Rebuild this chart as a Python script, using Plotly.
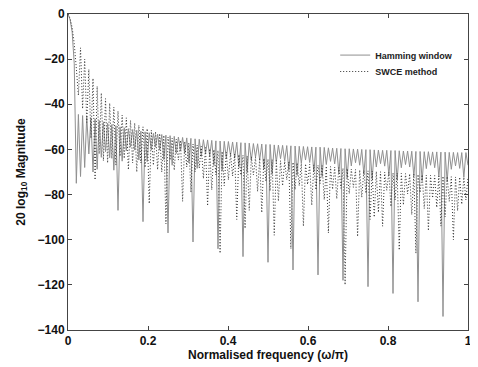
import plotly.graph_objects as go

# Normalised frequency grid (omega/pi) shared by both responses
freq = [
    0.0000, 0.0052, 0.0104, 0.0156, 0.0208, 0.0260, 0.0313, 0.0365, 0.0417, 0.0469, 0.0521, 0.0573,
    0.0625, 0.0677, 0.0729, 0.0781, 0.0833, 0.0885, 0.0938, 0.0990, 0.1042, 0.1094, 0.1146, 0.1198,
    0.1250, 0.1302, 0.1354, 0.1406, 0.1458, 0.1510, 0.1563, 0.1615, 0.1667, 0.1719, 0.1771, 0.1823,
    0.1875, 0.1927, 0.1979, 0.2031, 0.2083, 0.2135, 0.2188, 0.2240, 0.2292, 0.2344, 0.2396, 0.2448,
    0.2500, 0.2552, 0.2604, 0.2656, 0.2708, 0.2760, 0.2813, 0.2865, 0.2917, 0.2969, 0.3021, 0.3073,
    0.3125, 0.3177, 0.3229, 0.3281, 0.3333, 0.3385, 0.3438, 0.3490, 0.3542, 0.3594, 0.3646, 0.3698,
    0.3750, 0.3802, 0.3854, 0.3906, 0.3958, 0.4010, 0.4063, 0.4115, 0.4167, 0.4219, 0.4271, 0.4323,
    0.4375, 0.4427, 0.4479, 0.4531, 0.4583, 0.4635, 0.4688, 0.4740, 0.4792, 0.4844, 0.4896, 0.4948,
    0.5000, 0.5052, 0.5104, 0.5156, 0.5208, 0.5260, 0.5313, 0.5365, 0.5417, 0.5469, 0.5521, 0.5573,
    0.5625, 0.5677, 0.5729, 0.5781, 0.5833, 0.5885, 0.5938, 0.5990, 0.6042, 0.6094, 0.6146, 0.6198,
    0.6250, 0.6302, 0.6354, 0.6406, 0.6458, 0.6510, 0.6563, 0.6615, 0.6667, 0.6719, 0.6771, 0.6823,
    0.6875, 0.6927, 0.6979, 0.7031, 0.7083, 0.7135, 0.7188, 0.7240, 0.7292, 0.7344, 0.7396, 0.7448,
    0.7500, 0.7552, 0.7604, 0.7656, 0.7708, 0.7760, 0.7813, 0.7865, 0.7917, 0.7969, 0.8021, 0.8073,
    0.8125, 0.8177, 0.8229, 0.8281, 0.8333, 0.8385, 0.8438, 0.8490, 0.8542, 0.8594, 0.8646, 0.8698,
    0.8750, 0.8802, 0.8854, 0.8906, 0.8958, 0.9010, 0.9063, 0.9115, 0.9167, 0.9219, 0.9271, 0.9323,
    0.9375, 0.9427, 0.9479, 0.9531, 0.9583, 0.9635, 0.9688, 0.9740, 0.9792, 0.9844, 0.9896, 0.9948,
    1.0000,
]

# 20 log10 magnitude, Hamming window (solid grey)
hamming_db = [
    0, -2.5, -8, -22, -75, -44.5, -72, -45, -68, -45.5, -62, -46,
    -70, -46.5, -68.8, -47.2, -63.5, -47.8, -61, -48.4, -63.7, -49, -69.2, -49.5,
    -87, -50, -65.2, -50.4, -60.6, -50.8, -59, -51.2, -60.3, -51.5, -64.7, -51.9,
    -92, -52.2, -65.4, -52.6, -60.2, -52.9, -59, -53.2, -60.3, -53.4, -64.5, -53.7,
    -97, -53.9, -67, -54.2, -61.8, -54.5, -60.6, -54.7, -61.8, -54.9, -66, -55.1,
    -101, -55.3, -68.4, -55.5, -63.1, -55.7, -61.8, -55.8, -62.9, -56, -67.1, -56.2,
    -104, -56.3, -69.4, -56.4, -64, -56.5, -62.6, -56.7, -63.8, -56.8, -67.9, -57,
    -107.5, -57.1, -70.2, -57.2, -64.8, -57.4, -63.4, -57.5, -64.6, -57.6, -68.7, -57.8,
    -110, -57.8, -70.9, -58, -65.5, -58.1, -64.1, -58.2, -65.2, -58.3, -69.3, -58.4,
    -113.4, -58.5, -71.5, -58.6, -66.1, -58.7, -64.7, -58.8, -65.8, -58.9, -69.9, -59,
    -115.6, -59, -72.1, -59.1, -66.7, -59.3, -65.3, -59.4, -66.4, -59.5, -70.5, -59.6,
    -118, -59.7, -72.7, -59.7, -67.3, -59.8, -65.9, -59.9, -67, -60, -71, -60.1,
    -120.8, -60.1, -73.2, -60.2, -67.8, -60.3, -66.3, -60.4, -67.4, -60.4, -71.5, -60.5,
    -123.8, -60.5, -73.6, -60.6, -68.1, -60.7, -66.7, -60.7, -67.8, -60.8, -71.8, -60.9,
    -127.5, -60.9, -73.9, -61, -68.5, -61, -67, -61.1, -68.1, -61.1, -72.1, -61.2,
    -134, -61.2, -74.2, -61.3, -68.8, -61.3, -67.3, -61.4, -68.4, -61.4, -72.4, -61.4,
    -67,
]

# 20 log10 magnitude, SWCE method (dotted)
swce_db = [
    0, -2, -6, -13, -24, -36, -15, -42, -20, -48, -24.5, -55,
    -28.5, -73.5, -32, -62, -35, -65, -37.5, -66, -39.5, -64, -41.3, -67,
    -43, -63, -44.8, -64, -46, -69, -47.2, -66, -48.3, -70, -49.3, -66,
    -50, -68, -50.8, -84, -51.5, -67, -52.2, -69, -53, -70, -53.8, -93,
    -54.5, -64.7, -55, -69.2, -55.5, -64.7, -56, -83, -56.6, -67.8, -57.1, -79,
    -57.6, -69.9, -58.1, -68.3, -58.7, -72.9, -59.2, -85, -59.7, -77.9, -60.1, -71.3,
    -60.5, -106, -60.9, -76.1, -61.3, -73.5, -61.7, -71.8, -62, -91, -62.3, -71.4,
    -62.6, -95, -62.9, -87, -63.2, -71.3, -63.5, -78.6, -63.8, -88, -64, -74.1,
    -64.3, -78.4, -64.5, -98, -64.8, -82.9, -65, -76.1, -65.3, -73.4, -65.5, -104,
    -65.7, -77.8, -66, -76.1, -66.2, -94, -66.4, -75.5, -66.6, -84.7, -66.8, -77.9,
    -67, -75.1, -67.2, -82.3, -67.4, -97, -67.6, -77.7, -67.8, -81.9, -68.1, -77.2,
    -68.3, -120, -68.5, -79.6, -68.7, -76.8, -68.9, -98.6, -69.1, -81.2, -69.3, -79.4,
    -69.5, -91, -69.6, -90, -69.8, -87.9, -69.9, -94, -70.1, -78.1, -70.2, -85.3,
    -70.4, -82.4, -70.5, -104.6, -70.6, -84.6, -70.7, -79.7, -70.8, -88.9, -70.9, -106,
    -71.1, -79.1, -71.2, -86.2, -71.4, -96, -71.5, -81.5, -71.6, -85.7, -71.8, -94,
    -71.9, -89.9, -72, -83, -72.1, -100, -72.2, -87.2, -72.3, -84.3, -72.4, -82.4,
    -72.4,
]

x_ticks = [0, 0.2, 0.4, 0.6, 0.8, 1]
x_tick_labels = ["0", "0.2", "0.4", "0.6", "0.8", "1"]
y_ticks = [0, -20, -40, -60, -80, -100, -120, -140]
y_tick_labels = ["0", "\u221220", "\u221240", "\u221260", "\u221280", "\u2212100", "\u2212120", "\u2212140"]

FONT = "Arial, Liberation Sans, sans-serif"

fig = go.Figure()
fig.add_trace(go.Scatter(
    x=freq, y=hamming_db, mode="lines", name="Hamming window",
    line=dict(color="#909090", width=1), legend="legend",
))
fig.add_trace(go.Scatter(
    x=freq, y=swce_db, mode="lines", name="SWCE method",
    line=dict(color="#333333", width=1, dash="1px,2px"), legend="legend2",
))

axis_common = dict(
    showgrid=False, zeroline=False, showline=True, linecolor="#444444", linewidth=1,
    mirror="ticks", ticks="inside", ticklen=4, tickcolor="#444444", automargin=False,
    ticklabeloverflow="allow",
    tickfont=dict(family=FONT, size=12, color="#111111", weight="bold"),
)

legend_common = dict(
    xanchor="left", yanchor="middle", bgcolor="rgba(0,0,0,0)", borderwidth=0,
    font=dict(family=FONT, size=9, color="#222222", weight="bold"),
    itemwidth=30,
)

# the page body adds an 8 px offset, so the figure is sized and placed to compensate
fig.update_layout(
    width=470, height=359,
    margin=dict(l=60, r=10, t=6, b=37),
    paper_bgcolor="white", plot_bgcolor="white",
    showlegend=True,
    legend=dict(x=0.668, y=0.87, **legend_common),
    legend2=dict(x=0.668, y=0.818, **legend_common),
    xaxis=dict(
        range=[0, 1], tickvals=x_ticks, ticktext=x_tick_labels,
        title=dict(text="Normalised frequency (\u03c9/\u03c0)", standoff=0,
                   font=dict(family=FONT, size=12, color="#111111", weight="bold")),
        **axis_common,
    ),
    yaxis=dict(
        range=[-140, 0], tickvals=y_ticks, ticktext=y_tick_labels,
        title=dict(text="20 log<sub>10</sub> Magnitude", standoff=9,
                   font=dict(family=FONT, size=12, color="#111111", weight="bold")),
        **axis_common,
    ),
)

fig.write_html("out.html")
